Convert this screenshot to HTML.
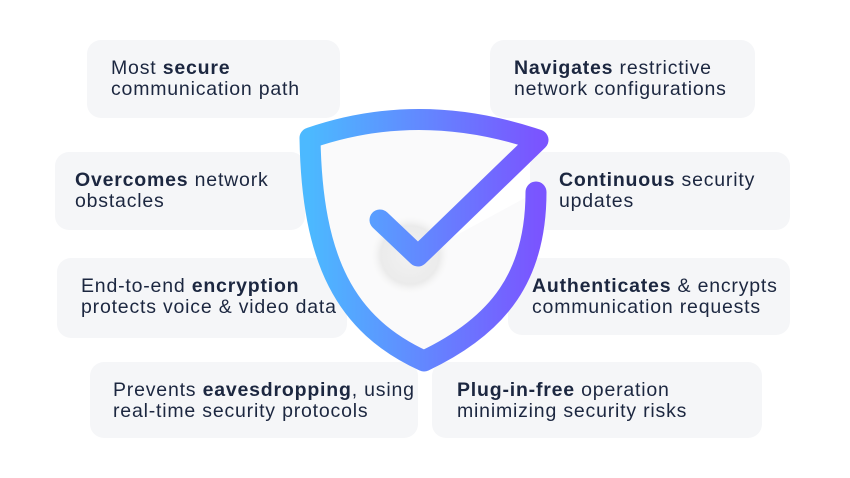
<!DOCTYPE html>
<html><head><style>
body{margin:0;width:850px;height:478px;background:#fff;font-family:"Liberation Sans",sans-serif;position:relative;overflow:hidden}
.c{position:absolute;background:#f5f6f8;border-radius:14px;box-sizing:border-box;color:#1c2740;font-size:19.5px;letter-spacing:0.8px;line-height:21px;padding-top:18px;z-index:1;white-space:nowrap}
.c b{font-weight:bold}
svg{position:absolute;left:0;top:0}
</style></head><body>
<div class="c" style="left:87px;top:40px;width:253px;height:78px;padding-left:24px">Most <b>secure</b><br>communication path</div>
<div class="c" style="left:55px;top:152px;width:250px;height:78px;padding-left:20px"><b>Overcomes</b> network<br>obstacles</div>
<div class="c" style="left:57px;top:258px;width:290px;height:80px;padding-left:24px">End-to-end <b>encryption</b><br>protects voice &amp; video data</div>
<div class="c" style="left:90px;top:362px;width:328px;height:76px;padding-left:23px">Prevents <b>eavesdropping</b>, using<br>real-time security protocols</div>
<div class="c" style="left:490px;top:40px;width:265px;height:78px;padding-left:24px"><b>Navigates</b> restrictive<br>network configurations</div>
<div class="c" style="left:530px;top:152px;width:260px;height:78px;padding-left:29px"><b>Continuous</b> security<br>updates</div>
<div class="c" style="left:508px;top:258px;width:282px;height:77px;padding-left:24px"><b>Authenticates</b> &amp; encrypts<br>communication requests</div>
<div class="c" style="left:432px;top:362px;width:330px;height:76px;padding-left:25px"><b>Plug-in-free</b> operation<br>minimizing security risks</div>
<svg width="850" height="478" style="z-index:2">
<defs><linearGradient id="g" x1="0" x2="1"><stop offset="0" stop-color="#4cb9ff"/><stop offset="1" stop-color="#7a55ff"/></linearGradient>
<radialGradient id="r"><stop offset="0" stop-color="#f2f2f2"/><stop offset="0.7" stop-color="#ebebeb"/><stop offset="1" stop-color="#fff" stop-opacity="0"/></radialGradient></defs>
<path d="M536,192 C536,275 500,325 424,361 C345,325 312,260 310,138 Q420,100 538,140 L418,256 Z" fill="#fafafb" stroke="none"/>
<circle cx="410" cy="255" r="42" fill="url(#r)"/>
<path d="M536,192 C536,275 500,325 424,361 C345,325 312,260 310,138 Q420,100 538,140 L418,256 L380,220" fill="none" stroke="url(#g)" stroke-width="21" stroke-linecap="round" stroke-linejoin="round"/>
</svg>
</body></html>
